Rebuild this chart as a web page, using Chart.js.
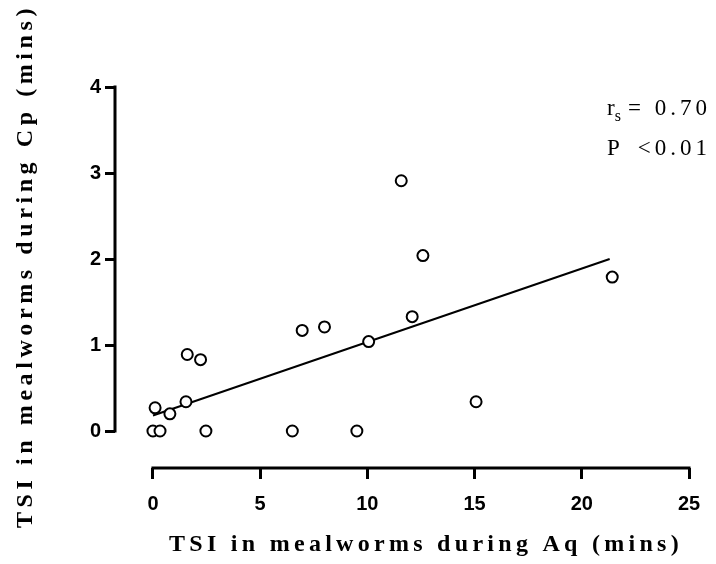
<!DOCTYPE html>
<html>
<head>
<meta charset="utf-8">
<script src="https://cdn.jsdelivr.net/npm/chart.js@4.4.0/dist/chart.umd.min.js"></script>
<style>
  html, body { margin: 0; padding: 0; background: #fff; }
  #wrap { width: 716px; height: 564px; }
</style>
</head>
<body>
<div id="wrap"><canvas id="chart" width="716" height="564"></canvas></div>
<script>
// values
const aqMins = [0.1, 0.0, 0.33, 0.79, 1.54, 1.6, 2.22, 2.47, 6.5, 6.96, 8.0, 9.51, 10.06, 11.58, 12.09, 12.59, 15.07, 21.42];
const cpMins = [0.27, 0.0, 0.0, 0.2, 0.34, 0.89, 0.83, 0.0, 0.0, 1.17, 1.21, 0.0, 1.04, 2.91, 1.33, 2.04, 0.34, 1.79];
const fitX = [0, 21.3];
const fitY = [0.18, 2.0];
const xTicks = [0, 5, 10, 15, 20, 25];
const yTicks = [0, 1, 2, 3, 4];
const xTitle = 'TSI in mealworms during Aq (mins)';
const yTitle = 'TSI in mealworms during Cp (mins)';
const statLines = [['r', 's', '= 0.70'], ['P', '', '<0.01']];

const tickFont = { family: '"Liberation Sans", Arial, sans-serif', size: 20, weight: 'bold' };
const serif = '"Liberation Serif", "Times New Roman", serif';

const prismAxes = {
    id: 'prismAxes',
    afterDraw(chart) {
        const ctx = chart.ctx;
        const xs = chart.scales.x;
        const ys = chart.scales.y;
        const area = chart.chartArea;
        ctx.save();
        ctx.strokeStyle = '#000';
        ctx.lineWidth = 3;
        ctx.lineCap = 'butt';
        // offset axis lines, only over the tick range
        ctx.beginPath();
        ctx.moveTo(xs.getPixelForValue(xTicks[0]) - 1.5, area.bottom);
        ctx.lineTo(xs.getPixelForValue(xTicks[xTicks.length - 1]) + 1.5, area.bottom);
        ctx.moveTo(area.left, ys.getPixelForValue(yTicks[0]) + 1.5);
        ctx.lineTo(area.left, ys.getPixelForValue(yTicks[yTicks.length - 1]) - 1.5);
        ctx.stroke();

        // axis titles
        ctx.fillStyle = '#000';
        ctx.font = 'bold 24px ' + serif;
        ctx.textBaseline = 'alphabetic';
        ctx.textAlign = 'left';
        ctx.letterSpacing = '0px';
        let w = ctx.measureText(xTitle).width;
        ctx.letterSpacing = ((514 - w) / xTitle.length) + 'px';
        ctx.fillText(xTitle, 169, 551);

        ctx.letterSpacing = '0px';
        w = ctx.measureText(yTitle).width;
        ctx.letterSpacing = ((524 - w) / yTitle.length) + 'px';
        ctx.save();
        ctx.translate(32, 528);
        ctx.rotate(-Math.PI / 2);
        ctx.fillText(yTitle, 0, 0);
        ctx.restore();

        // statistics
        statLines.forEach((parts, i) => {
            const base = 115 + i * 40;
            let x = 607;
            ctx.letterSpacing = '0px';
            ctx.font = '23px ' + serif;
            ctx.fillText(parts[0], x, base);
            x += ctx.measureText(parts[0]).width;
            if (parts[1]) {
                ctx.font = '16px ' + serif;
                ctx.fillText(parts[1], x, base + 6);
                ctx.font = '23px ' + serif;
            }
            ctx.letterSpacing = '4px';
            ctx.textAlign = 'right';
            ctx.fillText(parts[2], 711, base);
            ctx.textAlign = 'left';
        });
        ctx.restore();
        ctx.letterSpacing = '0px';
    }
};

new Chart(document.getElementById('chart'), {
    data: {
        datasets: [
            {
                type: 'scatter',
                data: aqMins.map((x, i) => ({ x: x, y: cpMins[i] })),
                pointRadius: 5.5,
                pointBorderWidth: 2,
                pointBorderColor: '#000',
                pointBackgroundColor: '#fff',
                clip: false,
                order: 0
            },
            {
                type: 'line',
                data: fitX.map((x, i) => ({ x: x, y: fitY[i] })),
                borderColor: '#000',
                borderWidth: 2,
                pointRadius: 0,
                fill: false,
                order: 1
            }
        ]
    },
    options: {
        responsive: false,
        animation: false,
        devicePixelRatio: 1,
        layout: { padding: { top: 87, right: 27, left: 0, bottom: 0 } },
        plugins: { legend: { display: false }, tooltip: { enabled: false } },
        scales: {
            x: {
                type: 'linear',
                min: -1.77,
                max: 25,
                afterBuildTicks: s => { s.ticks = xTicks.map(v => ({ value: v })); },
                afterFit: s => { s.height = 96; },
                border: { display: false },
                grid: { drawOnChartArea: false, drawTicks: true, tickLength: 11, tickWidth: 3, tickColor: '#000', color: '#000' },
                ticks: { font: tickFont, color: '#000', padding: 13, maxRotation: 0, autoSkip: false }
            },
            y: {
                type: 'linear',
                min: -0.43,
                max: 4,
                afterBuildTicks: s => { s.ticks = yTicks.map(v => ({ value: v })); },
                afterFit: s => { s.width = 115; },
                border: { display: false },
                grid: { drawOnChartArea: false, drawTicks: true, tickLength: 10, tickWidth: 3, tickColor: '#000', color: '#000' },
                ticks: { font: tickFont, color: '#000', padding: 4, autoSkip: false }
            }
        }
    },
    plugins: [prismAxes]
});
</script>
</body>
</html>
